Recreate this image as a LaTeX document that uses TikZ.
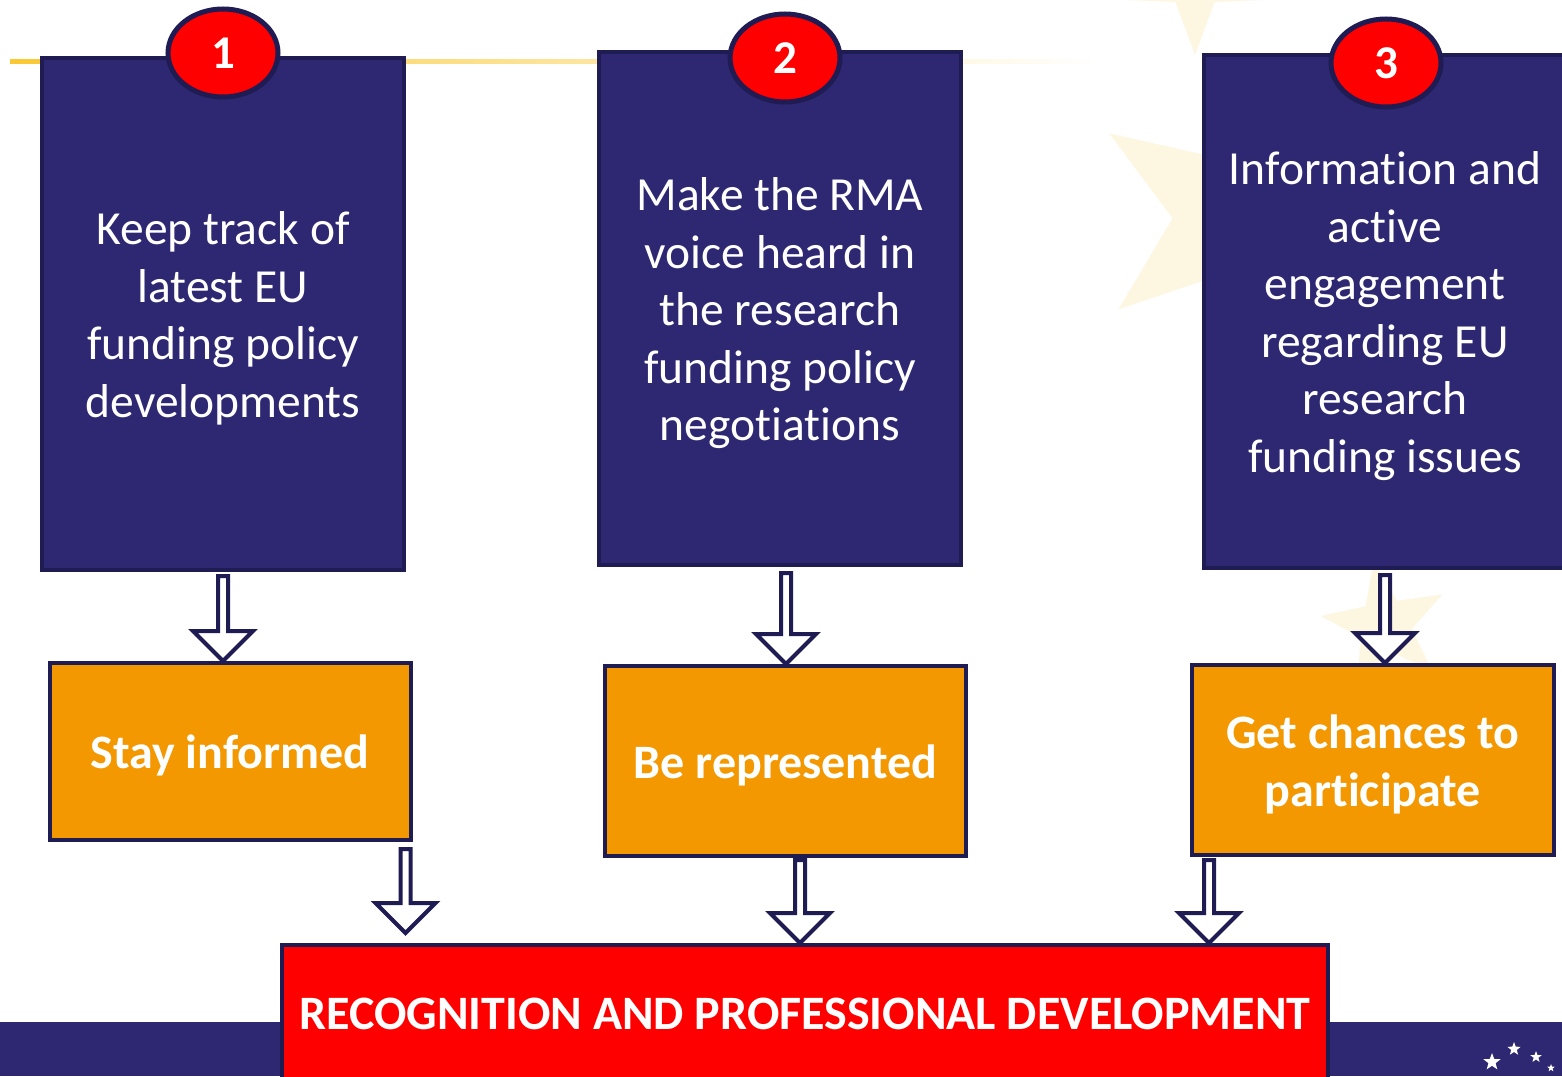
\documentclass[tikz,border=0pt]{standalone}
\usepackage{fontspec}
\setmainfont{Carlito}[Ligatures=NoCommon]
\usetikzlibrary{shapes.geometric,calc}
\definecolor{navy}{RGB}{46,40,114}
\definecolor{navyline}{RGB}{31,28,84}
\definecolor{orng}{RGB}{243,152,0}
\definecolor{palestar}{RGB}{253,247,226}
\definecolor{gold}{RGB}{250,200,50}
\newcommand\hollowdown[2]{%
  \draw[hollow] let \p1=(#1), \p2=(#2) in
    (\x1-5pt,\y1) -- (\x1+5pt,\y1) -- (\x1+5pt,\y2+30pt) -- (\x1+30pt,\y2+30pt)
    -- (\x1,\y2) -- (\x1-30pt,\y2+30pt) -- (\x1-5pt,\y2+30pt) -- cycle;}
\begin{document}
\begin{tikzpicture}[x=1pt,y=-1pt,
  topbox/.style={draw=navyline, line width=4pt, fill=navy, inner sep=0pt, minimum width=362pt},
  toptext/.style={text=white, align=center, font=\fontsize{47.5}{57.5}\selectfont, inner sep=0pt},
  midbox/.style={draw=navyline, line width=4pt, fill=orng, inner sep=0pt, minimum width=361pt},
  midtext/.style={text=white, align=center, font=\fontsize{48}{57.5}\selectfont\bfseries, inner sep=0pt},
  numbadge/.style={ellipse, draw=navyline, line width=5pt, fill=red, text=white,
    font=\fontsize{47}{50}\selectfont\bfseries, minimum width=110pt, minimum height=88pt, inner sep=0pt},
  goalbox/.style={draw=navyline, line width=4pt, fill=red, text=white,
    font=\fontsize{48}{50}\selectfont\bfseries, inner sep=0pt},
  hollow/.style={draw=navyline, line width=4pt, fill=white, line join=miter},
  bgstar/.style={star, star points=5, star point ratio=2.4, fill=palestar, inner sep=0pt},
  wstar/.style={star, star points=5, star point ratio=2.4, fill=white, inner sep=0pt}]
\useasboundingbox (0,0) rectangle (1562,1076);
\clip (0,0) rectangle (1562,1076);
\fill[white] (0,0) rectangle (1562,1076);
% faint background stars
\node[bgstar, minimum size=300pt, rotate=-15] (s1) at (1235,215) {};
\node[bgstar, minimum size=130pt, rotate=10] (s2) at (1385,625) {};
\node[bgstar, minimum size=160pt, rotate=36] (s3) at (1195,-25) {};
% gold line
\shade[left color=gold, right color=white] (10,59) rectangle (1100,63);
% bottom band
\fill[navy] (0,1022) rectangle (1562,1076);
\node[wstar, minimum size=18pt] (w1) at (1492,1062) {};
\node[wstar, minimum size=14pt] (w2) at (1514,1049) {};
\node[wstar, minimum size=12pt] (w3) at (1536,1057) {};
\node[wstar, minimum size=8pt] (w4) at (1551,1068) {};
% top boxes
\node[topbox, minimum height=512pt] (b1) at (223,314) {};
\node[topbox, minimum height=513pt] (b2) at (780,308.5) {};
\node[topbox, minimum height=513pt] (b3) at (1385,311.5) {};
\node[toptext] (b1t) at ($(b1.center)+(0,4.5)$)
  {Keep track of\\latest EU\\funding policy\\developments};
\node[toptext] (b2t) at ($(b2.center)+(0,5)$)
  {Make the RMA\\voice heard in\\the research\\funding policy\\negotiations};
\node[toptext] (b3t) at ($(b3.center)+(0,4.5)$)
  {Information and\\active\\engagement\\regarding EU\\research\\funding issues};
% badges
\node[numbadge] (n1) at (223,53) {1};
\node[numbadge] (n2) at (785,58) {2};
\node[numbadge] (n3) at (1386,63) {3};
% middle boxes
\node[midbox, minimum height=177pt] (o1) at (230,751.5) {};
\node[midbox, minimum height=190pt] (o2) at (785.5,761) {};
\node[midbox, minimum height=190pt, minimum width=362pt] (o3) at (1373,760) {};
\node[midtext] (o1t) at ($(o1.center)+(0,4)$) {Stay informed};
\node[midtext] (o2t) at ($(o2.center)+(0,4)$) {Be represented};
\node[midtext] (o3t) at ($(o3.center)+(0,4.5)$) {Get chances to\\participate};
% goal box
\node[goalbox, minimum width=1046pt, minimum height=137pt] (g) at (805,1013.5)
  {RECOGNITION AND PROFESSIONAL DEVELOPMENT};
% arrow anchors
\coordinate (t1) at ($(b1.south)+(0,4)$);
\coordinate (t2) at ($(b2.south)+(6,6)$);
\coordinate (t3) at ($(b3.south)+(0,5)$);
\coordinate (t4) at ($(o1.south east)+(-7,7)$);
\coordinate (t5) at ($(o2.south)+(14.5,2)$);
\coordinate (t6) at ($(o3.south west)+(19,3)$);
\coordinate (p4) at ($(t4)+(0,84)$);
\hollowdown{t1}{t1 |- o1.north}
\hollowdown{t2}{t2 |- o2.north}
\hollowdown{t3}{t3 |- o3.north}
\hollowdown{t4}{p4}
\hollowdown{t5}{t5 |- g.north}
\hollowdown{t6}{t6 |- g.north}
\end{tikzpicture}
\end{document}
